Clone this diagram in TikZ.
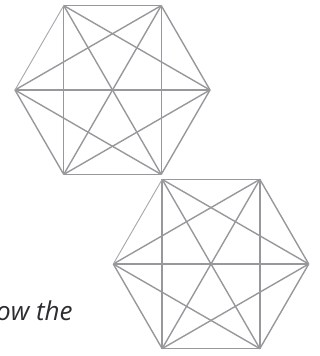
\documentclass[tikz,border=0pt]{standalone}
\usepackage{fontspec}
\setmainfont{Open Sans}
\usetikzlibrary{calc}
\definecolor{edgegray}{RGB}{152,152,156}
\definecolor{textgray}{RGB}{45,45,48}
\tikzset{
  edge/.style={draw=edgegray, line width=1.4pt},
  thinedge/.style={draw=edgegray!85, line width=0.9pt},
  caption/.style={font=\itshape\fontsize{26}{31}\selectfont, text=textgray, inner sep=0pt, anchor=base west}
}
\begin{document}
\begin{tikzpicture}[x=1pt,y=-1pt]
\useasboundingbox (0,0) rectangle (320,356);
\clip (0,0) rectangle (320,356);
\coordinate (c1) at (112.5,90);
\coordinate (c2) at (211,264);
\foreach \k in {0,...,5}{
  \coordinate (a\k) at ($(c1)+({\k*60}:97.5pt and -97.5pt)$);
  \coordinate (b\k) at ($(c2)+({\k*60}:97.7pt and -97.7pt)$);
}
\foreach \h in {a,b}{
  \foreach \i in {0,...,5}{
    \foreach \j in {0,...,5}{
      \ifnum\i<\j
        \ifnum\i=3 \ifnum\j=4 \else \draw[edge] (\h\i) -- (\h\j); \fi
        \else \draw[edge] (\h\i) -- (\h\j);
        \fi
      \fi
    }
  }
  \draw[thinedge] (\h3) -- (\h4);
}
\node[caption] (txt) at (-4,320) {ow the};
\end{tikzpicture}
\end{document}
